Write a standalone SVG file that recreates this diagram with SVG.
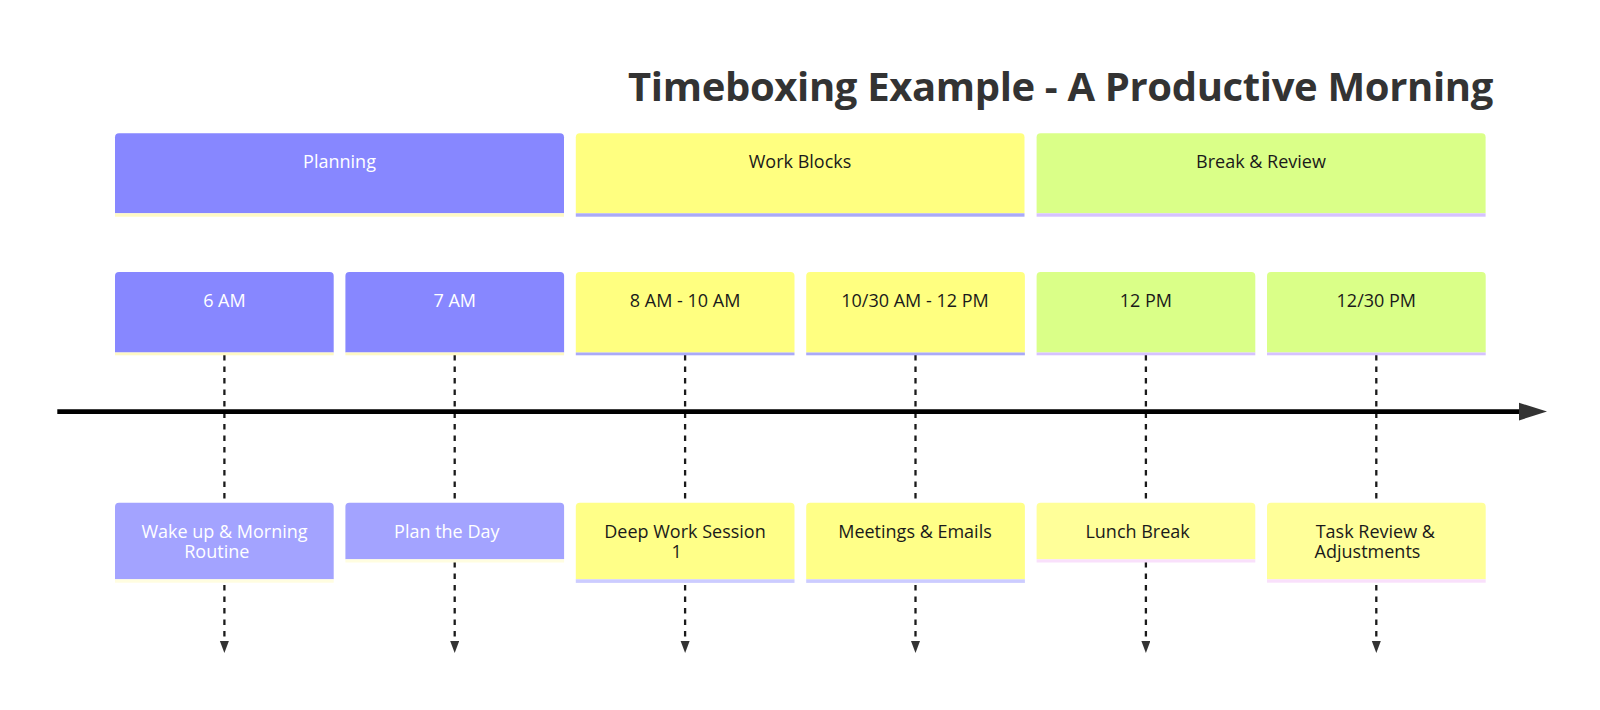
<svg xmlns="http://www.w3.org/2000/svg" width="1600" height="710" viewBox="0 0 1600 710">
<defs>
<style>
.t{font-family:"Open Sans","Noto Sans","Liberation Sans",sans-serif;font-size:18px;text-anchor:middle;fill:#1a1a1a}
.w{fill:#ffffff}
.title{font-family:"Open Sans","Noto Sans","Liberation Sans",sans-serif;font-size:40px;font-weight:bold;text-anchor:end;fill:#333333;letter-spacing:-0.35px}
.pl{fill:#8787ff}
.plk{fill:#a3a3ff}
.wb{fill:#ffff80}
.wbk{fill:#ffff88}
.br{fill:#daff88}
.brk{fill:#ffff99}
.bpl{fill:#fff9c4}
.bplk{fill:#fffde0}
.bwb{fill:#aaaaf8}
.bwbk{fill:#ccccff}
.bbr{fill:#d6c2ff}
.bbrk{fill:#f9e0fb}
.dash{stroke:#1a1a1a;stroke-width:2.3;stroke-dasharray:5.5 6;fill:none}
</style>
<marker id="ah" markerUnits="userSpaceOnUse" markerWidth="13" markerHeight="10" refX="0" refY="4.5" orient="auto">
<path d="M0,0 L12,4.5 L0,9 Z" fill="#333333"/>
</marker>
</defs>
<rect width="1600" height="710" fill="#ffffff"/>
<text class="title" x="1493" y="100.5">Timeboxing Example - A Productive Morning</text>

<g id="connectors">
<line class="dash" x1="224.4" y1="355" x2="224.4" y2="641" marker-end="url(#ah)"/>
<line class="dash" x1="454.7" y1="355" x2="454.7" y2="641" marker-end="url(#ah)"/>
<line class="dash" x1="685.1" y1="355" x2="685.1" y2="641" marker-end="url(#ah)"/>
<line class="dash" x1="915.5" y1="355" x2="915.5" y2="641" marker-end="url(#ah)"/>
<line class="dash" x1="1145.9" y1="355" x2="1145.9" y2="641" marker-end="url(#ah)"/>
<line class="dash" x1="1376.3" y1="355" x2="1376.3" y2="641" marker-end="url(#ah)"/>
<line x1="57.3" y1="411.7" x2="1520" y2="411.7" stroke="#000000" stroke-width="4.7"/>
<polygon points="1519,402.7 1547,411.6 1519,420.4" fill="#333333"/>
</g>

<g id="group-planning">
<path class="pl" d="M115,213.3 V137.3 Q115,133.3 119,133.3 H560 Q564,133.3 564,137.3 V213.3 Z"/>
<rect class="bpl" x="115" y="213.3" width="449" height="3.4"/>
<text class="t w" x="339.5" y="167.5">Planning</text>
</g>
<g id="group-work">
<path class="wb" d="M575.8,213.3 V137.3 Q575.8,133.3 579.8,133.3 H1020.5 Q1024.5,133.3 1024.5,137.3 V213.3 Z"/>
<rect class="bwb" x="575.8" y="213.3" width="448.7" height="3.4"/>
<text class="t" x="800" y="167.5">Work Blocks</text>
</g>
<g id="group-break">
<path class="br" d="M1036.6,213.3 V137.3 Q1036.6,133.3 1040.6,133.3 H1481.6 Q1485.6,133.3 1485.6,137.3 V213.3 Z"/>
<rect class="bbr" x="1036.6" y="213.3" width="449" height="3.4"/>
<text class="t" x="1261" y="167.5">Break &amp; Review</text>
</g>

<g id="time-6am">
<path class="pl" d="M115,352.5 V276 Q115,272 119,272 H329.7 Q333.7,272 333.7,276 V352.5 Z"/>
<rect class="bpl" x="115" y="352.5" width="218.7" height="2.8"/>
<text class="t w" x="224.4" y="306.5">6 AM</text>
</g>
<g id="time-7am">
<path class="pl" d="M345.4,352.5 V276 Q345.4,272 349.4,272 H560.1 Q564.1,272 564.1,276 V352.5 Z"/>
<rect class="bpl" x="345.4" y="352.5" width="218.7" height="2.8"/>
<text class="t w" x="454.7" y="306.5">7 AM</text>
</g>
<g id="time-8am">
<path class="wb" d="M575.8,352.5 V276 Q575.8,272 579.8,272 H790.5 Q794.5,272 794.5,276 V352.5 Z"/>
<rect class="bwb" x="575.8" y="352.5" width="218.7" height="2.8"/>
<text class="t" x="685.1" y="306.5">8 AM - 10 AM</text>
</g>
<g id="time-1030am">
<path class="wb" d="M806.2,352.5 V276 Q806.2,272 810.2,272 H1020.9 Q1024.9,272 1024.9,276 V352.5 Z"/>
<rect class="bwb" x="806.2" y="352.5" width="218.7" height="2.8"/>
<text class="t" x="915" y="306.5">10/30 AM - 12 PM</text>
</g>
<g id="time-12pm">
<path class="br" d="M1036.6,352.5 V276 Q1036.6,272 1040.6,272 H1251.3 Q1255.3,272 1255.3,276 V352.5 Z"/>
<rect class="bbr" x="1036.6" y="352.5" width="218.7" height="2.8"/>
<text class="t" x="1145.9" y="306.5">12 PM</text>
</g>
<g id="time-1230pm">
<path class="br" d="M1267,352.5 V276 Q1267,272 1271,272 H1481.7 Q1485.7,272 1485.7,276 V352.5 Z"/>
<rect class="bbr" x="1267" y="352.5" width="218.7" height="2.8"/>
<text class="t" x="1376.3" y="306.5">12/30 PM</text>
</g>

<g id="task-wakeup">
<path class="plk" d="M115,579.3 V506.7 Q115,502.7 119,502.7 H329.7 Q333.7,502.7 333.7,506.7 V579.3 Z"/>
<rect class="bplk" x="115" y="579.3" width="218.7" height="3.4"/>
<text class="t w"><tspan x="224.5" y="538">Wake up &amp; Morning</tspan><tspan x="216.8" y="557.5">Routine</tspan></text>
</g>
<g id="task-plan">
<path class="plk" d="M345.4,559.3 V506.7 Q345.4,502.7 349.4,502.7 H560.1 Q564.1,502.7 564.1,506.7 V559.3 Z"/>
<rect class="bplk" x="345.4" y="559.3" width="218.7" height="3.2"/>
<text class="t w" x="446.8" y="538">Plan the Day</text>
</g>
<g id="task-deepwork">
<path class="wbk" d="M575.8,579.3 V506.7 Q575.8,502.7 579.8,502.7 H790.5 Q794.5,502.7 794.5,506.7 V579.3 Z"/>
<rect class="bwbk" x="575.8" y="579.3" width="218.7" height="3.6"/>
<text class="t"><tspan x="685" y="538">Deep Work Session</tspan><tspan x="676.7" y="557.5">1</tspan></text>
</g>
<g id="task-meetings">
<path class="wbk" d="M806.2,579.3 V506.7 Q806.2,502.7 810.2,502.7 H1020.9 Q1024.9,502.7 1024.9,506.7 V579.3 Z"/>
<rect class="bwbk" x="806.2" y="579.3" width="218.7" height="3.6"/>
<text class="t" x="915" y="538">Meetings &amp; Emails</text>
</g>
<g id="task-lunch">
<path class="brk" d="M1036.6,559.3 V506.7 Q1036.6,502.7 1040.6,502.7 H1251.3 Q1255.3,502.7 1255.3,506.7 V559.3 Z"/>
<rect class="bbrk" x="1036.6" y="559.3" width="218.7" height="3.2"/>
<text class="t" x="1137.6" y="538">Lunch Break</text>
</g>
<g id="task-review">
<path class="brk" d="M1267,579.3 V506.7 Q1267,502.7 1271,502.7 H1481.7 Q1485.7,502.7 1485.7,506.7 V579.3 Z"/>
<rect class="bbrk" x="1267" y="579.3" width="218.7" height="3.4"/>
<text class="t"><tspan x="1375.3" y="538">Task Review &amp;</tspan><tspan x="1367.5" y="557.5">Adjustments</tspan></text>
</g>
</svg>
